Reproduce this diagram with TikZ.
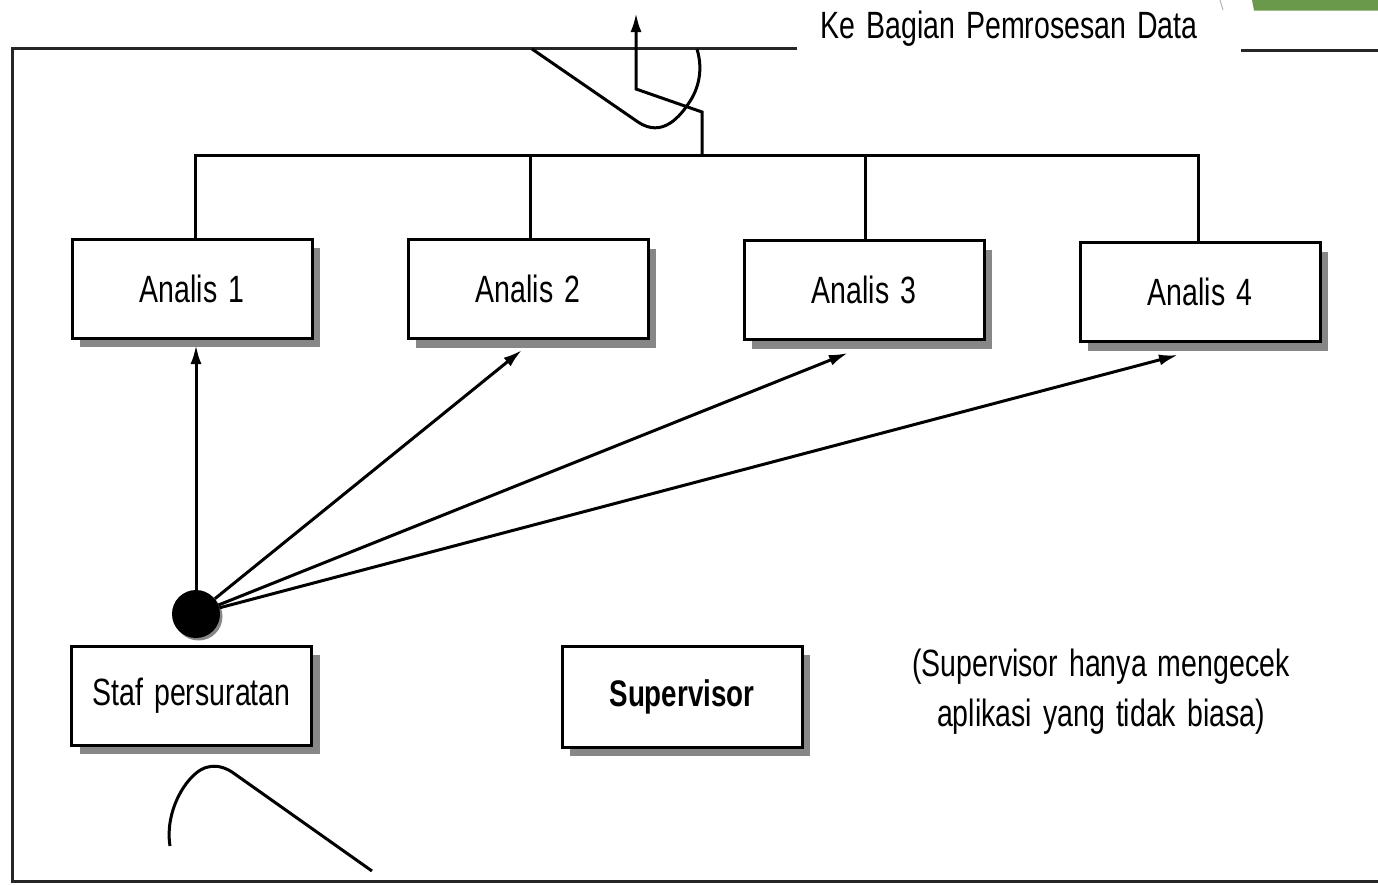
\documentclass[tikz,border=0pt]{standalone}
\usepackage{fontspec}
\setmainfont{Liberation Sans}[FakeStretch=0.75,WordSpace=1.4]
\usetikzlibrary{shadows,arrows.meta}
\definecolor{leaf}{RGB}{106,153,76}
\definecolor{shade}{RGB}{135,135,135}
\begin{document}
\begin{tikzpicture}[x=1pt,y=-1pt,
  ink/.style={line width=3pt,black},
  frame/.style={line width=3pt,black!85},
  arr/.style={ink,-{Latex[length=19pt,width=11pt]}},
  unit/.style={draw,line width=3pt,fill=white,minimum width=240pt,minimum height=99pt,
    inner sep=0pt,font=\fontsize{38}{42}\selectfont,
    drop shadow={shadow xshift=8pt,shadow yshift=-9pt,fill=shade,opacity=1}},
  note/.style={font=\fontsize{38}{50}\selectfont,align=center,inner sep=0pt}]
\useasboundingbox (0,0) rectangle (1378,884);

% corner tab and faint stroke
\fill[leaf] (1252,0) -- (1378,0) -- (1378,10.5) -- (1254,10.5) -- cycle;
\draw[black!35,line width=0.8pt] (1220,0) -- (1223,10);

% outer frame, open on the right, broken by the title
\draw[frame] (797,48) -- (12,48) -- (12,881) -- (1378,881);
\draw[frame] (1241,50) -- (1378,50);
\node[note] (title) at (1009,29) {Ke Bagian Pemrosesan Data};

% analyst boxes
\node[unit] (a1) at (192,288.5) {Analis 1};
\node[unit] (a2) at (528,289) {Analis 2};
\node[unit] (a3) at (864,290) {Analis 3};
\node[unit] (a4) at (1200,292) {Analis 4};

% lower boxes
\node[unit] (staf) at (191.5,695.5) {Staf persuratan};
\node[unit,minimum height=101pt,font=\fontsize{37}{40}\selectfont\bfseries] (sup) at (682,696.5) {Supervisor};
\node[note] (remark) at (1101,692) {(Supervisor hanya mengecek\\aplikasi yang tidak biasa)};

% mail hub dot
\node[circle,fill=black,minimum size=48pt,inner sep=0pt,
  drop shadow={shadow xshift=2.5pt,shadow yshift=-2.5pt,fill=shade,opacity=1}] (hub) at (196,614) {};

% collecting bus above the analysts
\coordinate (bus1) at (195,155);
\coordinate (bus4) at (1198,155);
\draw[ink] (a1.north -| bus1) -- (bus1) -- (bus4) -- (a4.north -| bus4);
\draw[ink] (a2.north) ++(2,0) coordinate (a2top) -- (a2top |- bus1);
\draw[ink] (a3.north) ++(1,0) coordinate (a3top) -- (a3top |- bus1);

% uplink to data processing
\coordinate (up0) at (702,155);
\coordinate (up1) at (702,112);
\coordinate (up2) at (636,89);
\coordinate (up3) at (636,13);
\draw[arr] (up0) -- (up1) -- (up2) -- (up3);

% flow curve crossing the top edge
\coordinate (c0) at (532,49);
\coordinate (c1) at (638,122);
\coordinate (c2) at (697,49);
\draw[ink] (c0) -- (c1) .. controls (662,138) and (680,118) .. (692,98)
  .. controls (702,80) and (701,62) .. (c2);

% incoming curve below the mail clerk
\coordinate (d0) at (170,846);
\coordinate (d1) at (232,772);
\coordinate (d2) at (372,871);
\draw[ink] (d0) .. controls (164,808) and (190,770) .. (208,767)
  .. controls (216,765) and (224,767) .. (d1) -- (d2);

% distribution from the hub to each analyst
\coordinate (t1) at (196,345);
\coordinate (t2) at (522,350);
\coordinate (t3) at (848,353);
\coordinate (t4) at (1178,355);
\draw[arr] (hub) -- (t1);
\draw[arr] (hub) -- (t2);
\draw[arr] (hub) -- (t3);
\draw[arr] (hub) -- (t4);
\end{tikzpicture}
\end{document}
